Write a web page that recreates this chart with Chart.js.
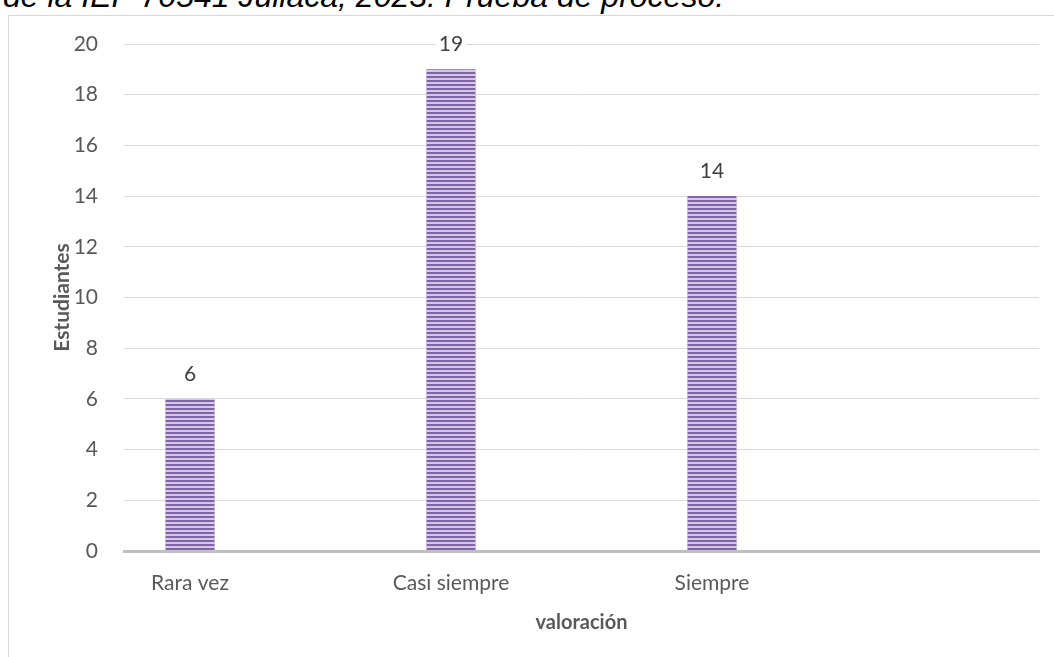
<!DOCTYPE html>
<html>
<head>
<meta charset="utf-8">
<script src="https://cdn.jsdelivr.net/npm/chart.js@4.4.0/dist/chart.umd.min.js"></script>
<style>
    body { margin: 0; background: #fff; }
    #wrap { position: relative; width: 1054px; height: 657px; overflow: hidden; }
    #caption {
        position: absolute; left: 3px; top: -22px; white-space: nowrap;
        font: italic 32px "Liberation Sans", Arial, sans-serif; color: #000;
    }
    #frame {
        position: absolute; left: 8px; top: 15px; width: 1100px; height: 700px;
        border-left: 1px solid #d9d9d9; border-top: 1px solid #d9d9d9;
    }
    #chart { position: absolute; left: 0; top: 0; }
</style>
</head>
<body>
<div id="wrap">
    <div id="caption">de la IEP 70541 Juliaca, 2023. Prueba de proceso.</div>
    <div id="frame"></div>
    <canvas id="chart" width="1054" height="657"></canvas>
</div>
<script>
const categories = ["Rara vez", "Casi siempre", "Siempre"];
const students = [6, 19, 14];
const yTicks = [0, 2, 4, 6, 8, 10, 12, 14, 16, 18, 20];

const makeStripes = () => {
    const c = document.createElement("canvas");
    c.width = 4;
    c.height = 4;
    const ctx = c.getContext("2d");
    ctx.fillStyle = "#d4c8e4";
    ctx.fillRect(0, 0, 4, 4);
    ctx.fillStyle = "#8063a9";
    ctx.fillRect(0, 0, 4, 2);
    return ctx.createPattern(c, "repeat");
};

const valueLabels = {
    id: "valueLabels",
    afterDatasetsDraw(chart) {
        const ctx = chart.ctx;
        const meta = chart.getDatasetMeta(0);
        ctx.save();
        ctx.font = "21px Lato, sans-serif";
        ctx.textAlign = "center";
        ctx.textBaseline = "middle";
        meta.data.forEach((bar, i) => {
            const txt = String(students[i]);
            const w = ctx.measureText(txt).width;
            const y = bar.y - 25;
            ctx.fillStyle = "#fff";
            ctx.fillRect(bar.x - w / 2 - 3, y - 11, w + 6, 22);
            ctx.fillStyle = "#404040";
            ctx.fillText(txt, bar.x, y);
        });
        ctx.restore();
    }
};

const chart = new Chart(document.getElementById("chart"), {
    type: "bar",
    data: {
        datasets: [{
            data: students.map((v, i) => ({ x: i, y: v })),
            backgroundColor: makeStripes(),
            borderColor: "#d8cdea",
            borderWidth: { left: 1, right: 1, top: 0, bottom: 0 },
            barThickness: 50
        }]
    },
    plugins: [valueLabels],
    options: {
        responsive: false,
        animation: false,
        layout: { padding: { left: 50, right: 15, top: 44, bottom: 0 } },
        plugins: { legend: { display: false }, tooltip: { enabled: false } },
        scales: {
            x: {
                type: "linear",
                offset: false,
                min: -0.253,
                max: 3.253,
                afterBuildTicks: (axis) => {
                    axis.ticks = categories.map((c, i) => ({ value: i }));
                },
                afterFit: (axis) => { axis.height = 106; },
                ticks: {
                    callback: (v) => categories[v],
                    color: "#595959",
                    font: { family: "Lato", size: 21 },
                    padding: 20,
                    maxRotation: 0
                },
                grid: { display: false, drawTicks: false },
                border: { display: true, color: "#bfbfbf", width: 3 },
                title: {
                    display: true,
                    text: "valoración",
                    color: "#595959",
                    font: { family: "Lato", size: 20, weight: "bold" },
                    padding: { top: 0, bottom: 22 }
                }
            },
            y: {
                min: 0,
                max: 20,
                afterBuildTicks: (axis) => {
                    axis.ticks = yTicks.map((v) => ({ value: v }));
                },
                afterFit: (axis) => { axis.width = 74; },
                ticks: {
                    color: "#595959",
                    font: { family: "Lato", size: 21 },
                    padding: 26
                },
                grid: { color: "#d9d9d9", lineWidth: 1, drawTicks: false },
                border: { display: false },
                title: {
                    display: true,
                    text: "Estudiantes",
                    color: "#595959",
                    font: { family: "Lato", size: 21, weight: "bold" },
                    padding: 0
                }
            }
        }
    }
});
</script>
</body>
</html>
